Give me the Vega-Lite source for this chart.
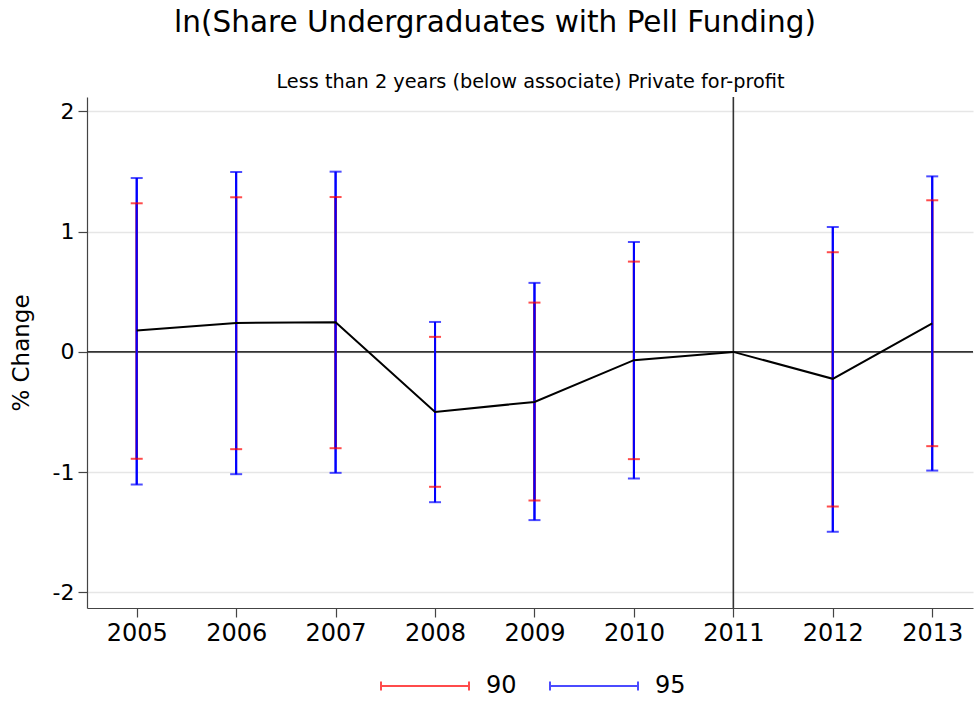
{
  "$schema": "https://vega.github.io/schema/vega-lite/v6.json",
  "width": 886,
  "height": 511,
  "autosize": {"type": "none"},
  "padding": {"left": 87, "top": 97, "right": 1, "bottom": 94},
  "background": "white",
  "config": {"font": "DejaVu Sans", "view": {"stroke": null}},
  "title": {"text": "ln(Share Undergraduates with Pell Funding)", "fontSize": 29.5, "fontWeight": "normal", "color": "black", "anchor": "middle", "frame": "group", "dx": -35, "offset": 34},
  "datasets": {
    "ci": [
      {"year": 2005, "ci": "90", "lo": -0.889, "hi": 1.236},
      {"year": 2006, "ci": "90", "lo": -0.809, "hi": 1.286},
      {"year": 2007, "ci": "90", "lo": -0.801, "hi": 1.288},
      {"year": 2008, "ci": "90", "lo": -1.122, "hi": 0.125},
      {"year": 2009, "ci": "90", "lo": -1.236, "hi": 0.410},
      {"year": 2010, "ci": "90", "lo": -0.892, "hi": 0.751},
      {"year": 2012, "ci": "90", "lo": -1.286, "hi": 0.829},
      {"year": 2013, "ci": "90", "lo": -0.784, "hi": 1.261},
      {"year": 2005, "ci": "95", "lo": -1.103, "hi": 1.446},
      {"year": 2006, "ci": "95", "lo": -1.017, "hi": 1.496},
      {"year": 2007, "ci": "95", "lo": -1.006, "hi": 1.499},
      {"year": 2008, "ci": "95", "lo": -1.250, "hi": 0.249},
      {"year": 2009, "ci": "95", "lo": -1.399, "hi": 0.574},
      {"year": 2010, "ci": "95", "lo": -1.053, "hi": 0.914},
      {"year": 2012, "ci": "95", "lo": -1.496, "hi": 1.039},
      {"year": 2013, "ci": "95", "lo": -0.987, "hi": 1.460}
    ],
    "est": [
      {"year": 2005, "est": 0.177},
      {"year": 2006, "est": 0.241},
      {"year": 2007, "est": 0.247},
      {"year": 2008, "est": -0.499},
      {"year": 2009, "est": -0.416},
      {"year": 2010, "est": -0.069},
      {"year": 2011, "est": 0},
      {"year": 2012, "est": -0.224},
      {"year": 2013, "est": 0.238}
    ],
    "one": [{"v": 0}]
  },
  "resolve": {"axis": {"x": "independent"}},
  "layer": [
    {
      "data": {"name": "ci"},
      "mark": {"type": "rule", "strokeWidth": 2},
      "encoding": {
        "x": {"field": "year", "type": "quantitative",
          "scale": {"domain": [2004.5, 2013.41], "nice": false, "zero": false},
          "axis": {"orient": "bottom", "values": [2005, 2006, 2007, 2008, 2009, 2010, 2011, 2012, 2013], "labelExpr": "'' + datum.value", "title": null,
            "labelFontSize": 24, "labelColor": "black", "labelPadding": 4,
            "tickSize": 9, "tickColor": "#444444", "tickWidth": 1.2,
            "domainColor": "#444444", "domainWidth": 1.2, "grid": false}
        },
        "y": {"field": "lo", "type": "quantitative",
          "scale": {"domain": [-2.13, 2.12], "nice": false, "zero": false},
          "axis": {"orient": "left", "values": [-2, -1, 0, 1, 2], "labelExpr": "'' + datum.value", "title": "% Change",
            "titleFontSize": 23, "titleFontWeight": "normal", "titleColor": "black", "titlePadding": 19,
            "labelFontSize": 22, "labelColor": "black", "labelPadding": 4,
            "tickSize": 9, "tickColor": "#444444", "tickWidth": 1.2,
            "domainColor": "#444444", "domainWidth": 1.2,
            "grid": true, "gridColor": "#e6e6e6", "gridWidth": 1.5}
        },
        "y2": {"field": "hi"},
        "color": {"field": "ci", "type": "nominal",
          "scale": {"domain": ["90", "95"], "range": ["#ff0000", "#0000ff"]},
          "legend": {"title": null, "orient": "none", "direction": "horizontal", "legendX": 293, "legendY": 577,
            "symbolType": "M-1,0H7M-1,-0.4V0.4M7,-0.4V0.4", "symbolSize": 484, "symbolStrokeWidth": 2,
            "labelFontSize": 24, "labelColor": "black", "labelOffset": 82, "columnPadding": 29}
        }
      }
    },
    {
      "data": {"name": "one"},
      "mark": {"type": "rule", "color": "#333333", "strokeWidth": 1.6},
      "encoding": {
        "y": {"datum": 0, "type": "quantitative"}
      }
    },
    {
      "data": {"name": "one"},
      "mark": {"type": "rule", "color": "#333333", "strokeWidth": 1.6},
      "encoding": {
        "x": {"datum": 2011, "type": "quantitative",
          "axis": {"orient": "top", "title": "Less than 2 years (below associate) Private for-profit",
            "titleFontSize": 19.3, "titleFontWeight": "normal", "titleColor": "black", "titlePadding": 6,
            "labels": false, "ticks": false, "domain": false, "grid": false}
        }
      }
    },
    {
      "data": {"name": "ci"},
      "mark": {"type": "rule", "strokeWidth": 2},
      "encoding": {
        "x": {"field": "year", "type": "quantitative", "axis": null},
        "y": {"field": "lo", "type": "quantitative"},
        "y2": {"field": "hi"},
        "color": {"field": "ci", "type": "nominal",
          "legend": {"title": null, "orient": "none", "direction": "horizontal", "legendX": 293, "legendY": 577,
            "symbolType": "M-1,0H7M-1,-0.4V0.4M7,-0.4V0.4", "symbolSize": 484, "symbolStrokeWidth": 2,
            "labelFontSize": 24, "labelColor": "black", "labelOffset": 82, "columnPadding": 29}
        }
      }
    },
    {
      "data": {"name": "ci"},
      "mark": {"type": "tick", "orient": "horizontal", "size": 12, "thickness": 2},
      "encoding": {
        "x": {"field": "year", "type": "quantitative", "axis": null},
        "y": {"field": "lo", "type": "quantitative"},
        "color": {"field": "ci", "type": "nominal",
          "legend": {"title": null, "orient": "none", "direction": "horizontal", "legendX": 293, "legendY": 577,
            "symbolType": "M-1,0H7M-1,-0.4V0.4M7,-0.4V0.4", "symbolSize": 484, "symbolStrokeWidth": 2,
            "labelFontSize": 24, "labelColor": "black", "labelOffset": 82, "columnPadding": 29}
        }
      }
    },
    {
      "data": {"name": "ci"},
      "mark": {"type": "tick", "orient": "horizontal", "size": 12, "thickness": 2},
      "encoding": {
        "x": {"field": "year", "type": "quantitative", "axis": null},
        "y": {"field": "hi", "type": "quantitative"},
        "color": {"field": "ci", "type": "nominal",
          "legend": {"title": null, "orient": "none", "direction": "horizontal", "legendX": 293, "legendY": 577,
            "symbolType": "M-1,0H7M-1,-0.4V0.4M7,-0.4V0.4", "symbolSize": 484, "symbolStrokeWidth": 2,
            "labelFontSize": 24, "labelColor": "black", "labelOffset": 82, "columnPadding": 29}
        }
      }
    },
    {
      "data": {"name": "est"},
      "mark": {"type": "line", "color": "black", "strokeWidth": 2},
      "encoding": {
        "x": {"field": "year", "type": "quantitative", "axis": null},
        "y": {"field": "est", "type": "quantitative"}
      }
    }
  ]
}
